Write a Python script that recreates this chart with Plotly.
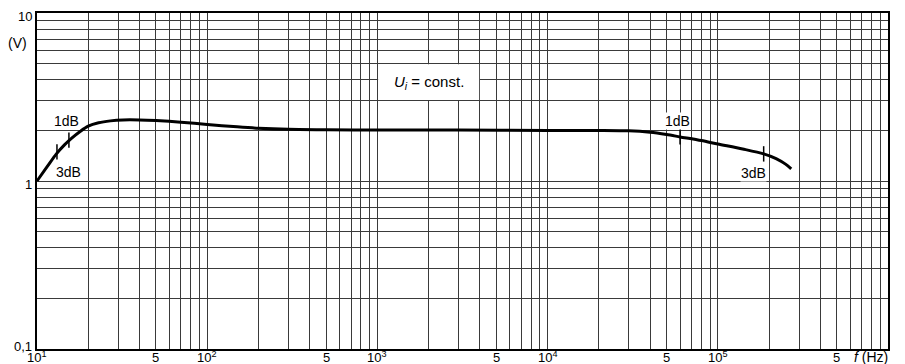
import numpy as np
import plotly.graph_objects as go

# Curve data (frequency in Hz, output voltage in V)
freq = [10, 11.5, 13, 14.5, 16, 18, 20, 23, 27, 32, 40, 50, 70, 100, 150, 200, 300, 500,
        1000, 3000, 10000, 20000, 30000, 40000, 50000, 60000, 80000, 100000, 140000,
        186000, 220000, 250000, 270000]
volt = [1.0, 1.22, 1.45, 1.64, 1.8, 1.98, 2.12, 2.22, 2.28, 2.31, 2.31, 2.29, 2.24, 2.17,
        2.1, 2.06, 2.03, 2.02, 2.01, 2.01, 2.0, 2.0, 1.99, 1.95, 1.89, 1.83, 1.74, 1.66,
        1.55, 1.45, 1.36, 1.26, 1.18]

# dB marker points on the curve
mark_f = [13.1, 15.4, 60000, 186000]
mark_v = [1.49, 1.75, 1.83, 1.45]

# dB labels
lab_text = ["1dB", "3dB", "1dB", "3dB"]
lab_f = [15.0, 15.3, 58000, 161000]
lab_v = [2.28, 1.13, 2.28, 1.12]

# Axis ticks (grid at every 1..9 x decade)
x_gridvals = [m * 10 ** e for e in range(1, 6) for m in range(1, 10)] + [1e6]
x_labvals = [10, 50, 100, 500, 1000, 5000, 10000, 50000, 100000, 500000]
x_labtext = ["10<sup>1</sup>", "5", "10<sup>2</sup>", "5", "10<sup>3</sup>", "5",
             "10<sup>4</sup>", "5", "10<sup>5</sup>", "5"]

y_gridvals = [m * 10.0 ** e for e in (-1, 0) for m in range(1, 10)] + [10.0]
y_labvals = [0.1, 1.0, 10.0]
y_labtext = ["0,1", "1", "10"]
y_labshift = [3, -3, -3]

FONT = "Liberation Sans, Arial, sans-serif"
GRID = "#3a3a3a"

fig = go.Figure()
fig.add_trace(go.Scatter(
    x=freq, y=volt, mode="lines",
    line=dict(color="black", width=3, shape="spline", smoothing=0.8),
    hoverinfo="skip"))
fig.add_trace(go.Scatter(
    x=mark_f, y=mark_v, mode="markers",
    marker=dict(symbol="line-ns", size=11, line=dict(width=1.5, color="black")),
    hoverinfo="skip"))

annotations = []
for t, f, v in zip(lab_text, lab_f, lab_v):
    annotations.append(dict(x=np.log10(f), y=np.log10(v), xref="x", yref="y",
                            text=t, showarrow=False, bgcolor="white",
                            font=dict(family=FONT, size=14, color="black"),
                            borderpad=0))
for v, t in zip(x_labvals, x_labtext):
    annotations.append(dict(x=np.log10(v), y=0, xref="x", yref="paper", yshift=-8,
                            text=t, showarrow=False, xanchor="center", yanchor="middle",
                            font=dict(family=FONT, size=13, color="black")))
for v, t, s in zip(y_labvals, y_labtext, y_labshift):
    annotations.append(dict(x=0, y=np.log10(v), xref="paper", yref="y", xshift=-3,
                            yshift=s, text=t, showarrow=False, xanchor="right",
                            yanchor="middle",
                            font=dict(family=FONT, size=13, color="black")))
annotations.append(dict(x=np.log10(2000), y=np.log10(3.85), xref="x", yref="y",
                        text="<i>U<sub>i</sub></i> = const.", showarrow=False,
                        font=dict(family=FONT, size=15, color="black")))
annotations.append(dict(x=(17 - 37) / 851, y=(349 - 43) / 336, xref="paper", yref="paper",
                        text="(V)", showarrow=False, xanchor="center", yanchor="middle",
                        font=dict(family=FONT, size=14, color="black")))
annotations.append(dict(x=(871 - 37) / 851, y=0, xref="paper", yref="paper", yshift=-8,
                        text="<i>f</i> (Hz)", showarrow=False, xanchor="center",
                        yanchor="middle",
                        font=dict(family=FONT, size=14, color="black")))

fig.add_shape(type="rect", xref="x", yref="y", x0=1010, x1=3960, y0=3.03, y1=4.95,
              fillcolor="white", line=dict(width=0), layer="between")

fig.update_layout(
    width=905, height=364,
    margin=dict(l=37, r=17, t=13, b=15),
    paper_bgcolor="white", plot_bgcolor="white",
    showlegend=False,
    annotations=annotations,
    xaxis=dict(type="log", range=[1, 6], tickvals=x_gridvals, showticklabels=False,
               showgrid=True, gridcolor=GRID, gridwidth=1, ticks="", zeroline=False,
               showline=True, linecolor="black", linewidth=1.5, mirror=True,
               automargin=False),
    yaxis=dict(type="log", range=[-1, 1], tickvals=y_gridvals, showticklabels=False,
               showgrid=True, gridcolor=GRID, gridwidth=1, ticks="", zeroline=False,
               showline=True, linecolor="black", linewidth=1.5, mirror=True,
               automargin=False),
)

fig.write_html("out.html", config={"displayModeBar": False},
               post_script="document.body.style.margin='0px';")
